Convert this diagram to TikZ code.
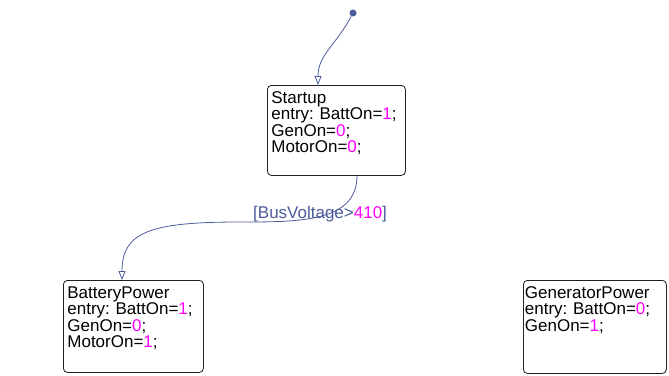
\documentclass[tikz,border=0pt]{standalone}
\usepackage{fontspec}
\setmainfont{Liberation Sans}
\usepackage{xcolor}
\usetikzlibrary{arrows.meta}
\frenchspacing
\definecolor{stateLine}{HTML}{202020}
\definecolor{transBlue}{HTML}{4C5C9C}
\definecolor{valMagenta}{HTML}{FF00FF}
\newcommand{\stval}[1]{\textcolor{valMagenta}{#1}}
\tikzset{
  statebox/.style={rectangle, rounded corners=4pt, draw=stateLine, line width=0.8pt, align=left, anchor=north west, font=\fontsize{17}{16.5}\selectfont, inner xsep=4pt, inner ysep=6pt, text height=12pt},
  transarrow/.style={-{Triangle[open,length=9pt,width=7pt]}, line width=0.8pt, draw=transBlue},
  guardlabel/.style={font=\fontsize{17}{17}\selectfont, text=transBlue, inner sep=0pt, anchor=west},
  initdot/.style={circle, fill=transBlue, inner sep=0pt, minimum size=7pt},
}

\begin{document}
\begin{tikzpicture}[x=1pt,y=1pt]
  \useasboundingbox (0,0) rectangle (669,-375);
  \node[initdot] (init) at (353,-13) {};
  \node[statebox, text width=130pt, text depth=66pt] (startup) at (267,-85) {Startup\\entry: BattOn=\stval{1};\\GenOn=\stval{0};\\MotorOn=\stval{0};};
  \node[statebox, text width=132pt, text depth=68pt] (battery) at (63,-280) {BatteryPower\\entry: BattOn=\stval{1};\\GenOn=\stval{0};\\MotorOn=\stval{1};};
  \node[statebox, inner xsep=1.5pt, text width=140pt, text depth=69pt] (generator) at (523,-280) {GeneratorPower\\entry: BattOn=\stval{0};\\GenOn=\stval{1};};
  \draw[transarrow] (init) .. controls (336,-45) and (318,-55) .. ([xshift=51pt]startup.north west);
  \draw[transarrow] ([xshift=90pt]startup.south west) .. controls (357,-222) and (300,-222) .. (240,-222) .. controls (150,-222) and (122,-232) .. ([xshift=59pt]battery.north west);
  \node[guardlabel] (guard) at (253,-214) {[BusVoltage>\stval{410}]};
\end{tikzpicture}
\end{document}
